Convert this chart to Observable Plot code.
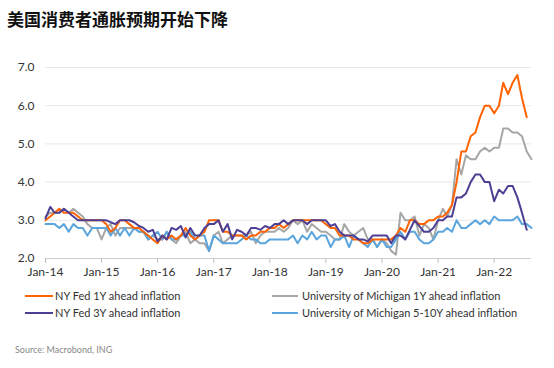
<!DOCTYPE html>
<html><head><meta charset="utf-8">
<script src="https://cdn.jsdelivr.net/npm/d3@7"></script>
<script src="https://cdn.jsdelivr.net/npm/@observablehq/plot@0.6"></script>
<style>
body{margin:0;background:#fff;width:554px;height:368px;position:relative;overflow:hidden;font-family:Lato,"Noto Sans",sans-serif;}
#title{position:absolute;left:7px;top:9px;font-weight:bold;font-size:17px;font-family:"Noto Sans CJK SC",sans-serif;color:#111;white-space:nowrap;line-height:20px;}
#chart{position:absolute;left:0;top:40px;}
.leg{position:absolute;font-size:11px;color:#333;white-space:nowrap;line-height:14px;}
.sw{position:absolute;height:2px;}
#source{position:absolute;left:15px;top:344px;font-size:9px;color:#888;line-height:12px;}
</style></head><body>
<div id="title">美国消费者通胀预期开始下降</div>
<div id="chart"></div>
<div id="legend"></div>
<div id="source">Source: Macrobond, ING</div>
<script>
// Monthly data starting Jan 2014
const startYear = 2014, startMonth = 0;
const yTicks = [2, 3, 4, 5, 6, 7];
const xTickYears = [2014, 2015, 2016, 2017, 2018, 2019, 2020, 2021, 2022];

const seriesNames = [
  "NY Fed 1Y ahead inflation",
  "University of Michigan 1Y ahead inflation",
  "NY Fed 3Y ahead inflation",
  "University of Michigan 5-10Y ahead inflation"
];
const seriesColors = ["#FF6200", "#A6A6A6", "#4D3F94", "#5AA5DD"];

const nyFed1Y = [
  3.0,3.1,3.2,3.3,3.2,3.2,3.2,3.1,3.0,3.0,3.0,3.0,
  3.0,2.9,2.7,2.8,3.0,3.0,2.9,2.8,2.8,2.7,2.6,2.5,
  2.4,2.6,2.5,2.6,2.5,2.6,2.8,2.6,2.5,2.6,2.7,3.0,
  3.0,3.0,2.7,2.7,2.6,2.6,2.6,2.5,2.6,2.6,2.7,2.7,
  2.8,2.8,2.9,2.8,2.9,3.0,3.0,3.0,3.0,3.0,3.0,3.0,
  2.9,2.8,2.8,2.6,2.6,2.6,2.5,2.5,2.4,2.4,2.5,2.5,
  2.5,2.5,2.5,2.6,2.8,2.7,3.0,3.0,2.9,2.9,3.0,3.0,
  3.1,3.1,3.2,3.4,4.0,4.8,4.8,5.2,5.3,5.7,6.0,6.0,
  5.8,6.0,6.6,6.3,6.6,6.8,6.2,5.7
];
const michigan1Y = [
  3.1,3.2,3.2,3.2,3.3,3.2,3.3,3.2,3.1,2.9,2.8,2.8,
  2.5,2.8,2.9,2.6,2.8,2.8,2.8,2.8,2.7,2.7,2.5,2.6,
  2.5,2.5,2.7,2.5,2.4,2.6,2.7,2.4,2.5,2.4,2.4,2.2,
  2.6,2.7,2.4,2.5,2.6,2.6,2.6,2.6,2.7,2.4,2.6,2.7,
  2.7,2.7,2.8,2.7,2.8,3.0,2.9,3.0,2.7,2.9,2.8,2.7,
  2.7,2.6,2.5,2.5,2.9,2.7,2.6,2.7,2.8,2.5,2.5,2.3,
  2.5,2.4,2.2,2.1,3.2,3.0,3.0,3.1,2.6,2.9,2.8,2.5,
  3.0,3.3,3.1,3.4,4.6,4.2,4.7,4.6,4.6,4.8,4.9,4.8,
  4.9,4.9,5.4,5.4,5.3,5.3,5.2,4.8,4.6
];
const nyFed3Y = [
  3.05,3.35,3.2,3.2,3.3,3.2,3.1,3.0,3.0,3.0,3.0,3.0,
  3.0,3.0,2.95,2.9,3.0,3.0,3.0,2.95,2.85,2.8,2.7,2.75,
  2.45,2.6,2.5,2.8,2.75,2.85,2.55,2.8,2.6,2.6,2.8,2.9,
  2.9,3.0,2.7,2.9,2.5,2.75,2.7,2.6,2.8,2.8,2.75,2.85,
  2.8,2.9,2.9,3.0,2.9,3.0,3.0,3.0,2.9,3.0,3.0,3.0,
  3.0,2.85,2.9,2.7,2.6,2.6,2.6,2.5,2.5,2.45,2.6,2.6,
  2.6,2.6,2.4,2.6,2.6,2.5,2.75,3.0,2.85,2.7,2.7,2.8,
  3.0,3.0,3.1,3.1,3.6,3.6,3.7,4.0,4.2,4.2,4.0,4.0,
  3.5,3.8,3.7,3.9,3.9,3.6,3.2,2.75
];
const michigan5to10Y = [
  2.9,2.9,2.9,2.8,2.9,2.7,2.9,2.8,2.8,2.6,2.8,2.8,
  2.8,2.8,2.6,2.8,2.6,2.8,2.6,2.8,2.7,2.7,2.5,2.6,
  2.7,2.5,2.7,2.5,2.5,2.6,2.6,2.7,2.5,2.6,2.6,2.2,
  2.6,2.5,2.4,2.4,2.4,2.4,2.5,2.6,2.5,2.5,2.4,2.4,
  2.5,2.5,2.5,2.5,2.5,2.6,2.4,2.6,2.5,2.7,2.5,2.6,
  2.6,2.3,2.5,2.5,2.6,2.3,2.6,2.5,2.4,2.3,2.5,2.3,
  2.5,2.3,2.3,2.5,2.7,2.5,2.7,2.7,2.5,2.4,2.4,2.5,
  2.7,2.7,2.8,2.7,3.0,2.8,2.8,2.9,3.0,2.9,3.0,2.9,
  3.1,3.0,3.0,3.0,3.0,3.1,2.9,2.9,2.8
];

const seriesValues = [nyFed1Y, michigan1Y, nyFed3Y, michigan5to10Y];
const toRows = (vals, name) => vals.map((v, i) => ({date: new Date(Date.UTC(startYear, startMonth + i, 1)), value: v, series: name}));
const rows = seriesValues.map((vals, k) => toRows(vals, seriesNames[k]));

const drawOrder = [1, 3, 0, 2];

const chart = Plot.plot({
  width: 554,
  height: 240,
  marginLeft: 45,
  marginRight: 23,
  marginTop: 27,
  marginBottom: 22,
  style: {fontFamily: "Lato, 'Noto Sans', sans-serif", fontSize: "12px", color: "#333", background: "transparent"},
  x: {type: "utc", domain: [new Date(Date.UTC(2014, 0, 1)), new Date(Date.UTC(2022, 8, 1))], label: null},
  y: {domain: [2, 7], label: null},
  marks: [
    Plot.gridY(yTicks.filter(d => d > 2), {stroke: "#e8e8e8", strokeOpacity: 1, strokeWidth: 1}),
    Plot.ruleY([2], {stroke: "#cfcfcf", strokeWidth: 1}),
    Plot.axisY({ticks: yTicks, tickFormat: d3.format(".1f"), tickSize: 0, tickPadding: 11, fontSize: 12, fill: "#333", label: null}),
    Plot.axisX({ticks: xTickYears.map(y => new Date(Date.UTC(y, 0, 1))), tickFormat: d3.utcFormat("%b-%y"), tickSize: 5, tickPadding: 4, stroke: "#bdbdbd", fill: "#333", fontSize: 12, label: null}),
    ...drawOrder.map(k => Plot.lineY(rows[k], {x: "date", y: "value", stroke: seriesColors[k], strokeWidth: 2}))
  ]
});
document.getElementById("chart").appendChild(chart);

// Legend
const legendPos = [[25, 289], [272, 289], [25, 306], [272, 306]];
const legend = document.getElementById("legend");
seriesNames.forEach((name, k) => {
  const [lx, ly] = legendPos[k];
  const sw = document.createElement("div");
  sw.className = "sw";
  sw.style.left = lx + "px"; sw.style.top = (ly + 6) + "px";
  sw.style.width = (k % 2 === 0 ? 28 : 26) + "px";
  sw.style.background = seriesColors[k];
  legend.appendChild(sw);
  const t = document.createElement("div");
  t.className = "leg";
  t.style.left = (lx + 30) + "px"; t.style.top = ly + "px";
  t.textContent = name;
  legend.appendChild(t);
});
</script>
</body></html>
